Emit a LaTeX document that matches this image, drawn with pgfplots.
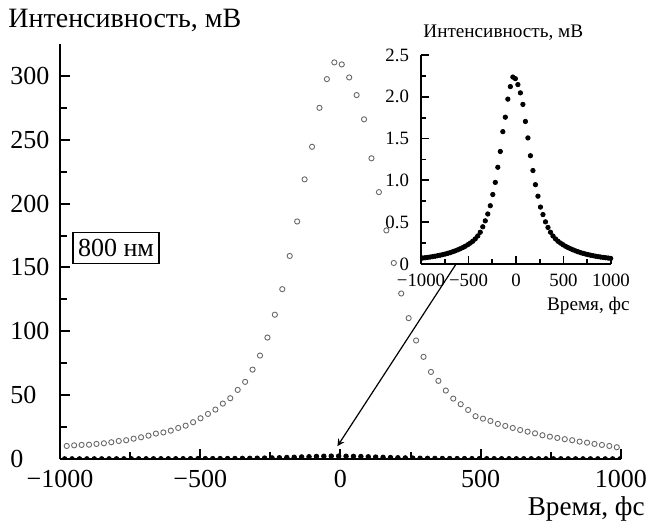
\documentclass[border=0pt]{standalone}
\usepackage{fontspec}
\setmainfont{Liberation Serif}
\usepackage{pgfplots}
\usepackage{pgfplotstable}
\pgfplotsset{compat=1.18}

\definecolor{circgray}{RGB}{105,105,105}

% 800 nm, open circles (main plot)
\pgfplotstableread{
t v
-1002.5 10.0
-976 10.2
-949.5 10.7
-923 11.0
-896.5 11.2
-870 11.8
-843.5 12.3
-817 13.1
-790.5 14.1
-764 14.7
-737.5 15.9
-711 17.0
-684.5 18.3
-658 19.9
-631.5 20.8
-605 22.2
-578.5 24.3
-552 26.1
-525.5 28.8
-499 31.9
-472.5 35.3
-446 38.7
-419.5 43.4
-393 47.6
-366.5 54.1
-340 60.4
-313.5 70.0
-287 81.0
-260.5 95.1
-234 113.0
-207.5 133.0
-181 159.0
-154.5 186.0
-128 219.0
-101.5 244.5
-75 275.0
-48.5 297.5
-22 310.6
4.5 309.0
31 298.8
57.5 285.0
84 266.0
110.5 235.5
137 209.0
163.5 179.0
190 153.5
216.5 129.6
243 110.3
269.5 92.8
296 80.0
322.5 68.2
349 61.2
375.5 53.6
402 47.3
428.5 42.9
455 38.4
481.5 33.5
508 31.6
534.5 29.8
561 27.5
587.5 25.9
614 24.3
640.5 22.7
667 21.4
693.5 20.1
720 18.6
746.5 17.5
773 16.5
799.5 15.5
826 14.7
852.5 13.6
879 12.8
905.5 11.8
932 11.0
958.5 10.2
985 9.2
}\wide

% filled dots (inset, also along the bottom of the main plot)
\pgfplotstableread{
t v
-983.4 0.071
-957.0 0.075
-930.6 0.079
-904.2 0.083
-877.8 0.088
-851.4 0.093
-825.0 0.099
-798.6 0.105
-772.2 0.112
-745.8 0.119
-719.4 0.127
-693.0 0.136
-666.6 0.146
-640.2 0.157
-613.8 0.169
-587.4 0.182
-561.0 0.196
-534.6 0.212
-508.2 0.230
-481.8 0.250
-455.4 0.272
-429.0 0.300
-402.6 0.335
-376.2 0.380
-349.8 0.445
-323.4 0.516
-297.0 0.598
-270.6 0.697
-244.2 0.831
-217.8 0.976
-191.4 1.157
-165.0 1.346
-138.6 1.583
-112.2 1.756
-85.8 1.972
-59.4 2.122
-33.0 2.236
-6.6 2.217
19.8 2.146
46.2 2.047
72.6 1.909
99.0 1.705
125.4 1.508
151.8 1.295
178.2 1.118
204.6 0.949
231.0 0.811
257.4 0.681
283.8 0.591
310.2 0.504
336.6 0.437
363.0 0.380
389.4 0.335
415.8 0.300
442.2 0.272
468.6 0.250
495.0 0.230
521.4 0.212
547.8 0.196
574.2 0.182
600.6 0.169
627.0 0.157
653.4 0.146
679.8 0.136
706.2 0.127
732.6 0.119
759.0 0.112
785.4 0.105
811.8 0.099
838.2 0.093
864.6 0.088
891.0 0.083
917.4 0.079
943.8 0.075
970.2 0.071
996.6 0.067
}\narrow

\newcommand\mainfont{\fontsize{13}{15}\selectfont}
\newcommand\insetfont{\fontsize{9.4}{11}\selectfont}

\begin{document}
\begin{tikzpicture}
\useasboundingbox (-30pt,-35pt) rectangle (295pt,229.5pt);

\begin{axis}[
  at={(0pt,0pt)}, anchor=south west,
  scale only axis, width=280.5pt, height=207.5pt,
  xmin=-1000, xmax=1000, ymin=0, ymax=325,
  axis lines*=left, axis line style={-, line width=1.3pt},
  tick align=inside, tick style={line width=1pt, black},
  major tick length=5pt, minor tick length=3.5pt,
  xtick={-1000,-500,0,500,1000},
  xticklabels={−1000,−500,0,500,1000},
  minor x tick num=1,
  ytick={0,50,...,300},
  minor y tick num=1,
  /pgf/number format/assume math mode=true,
  tick label style={font=\mainfont},
  xticklabel style={yshift=-2pt},
  yticklabel style={anchor=west, inner sep=0pt, xshift=-25pt},
  clip marker paths=true,
]
\addplot[only marks, mark=o, mark size=1.3pt, color=circgray, mark options={line width=0.45pt}]
  table[x=t, y=v] {\wide};
\addplot[only marks, mark=*, mark size=1.15pt, color=black]
  table[x=t, y=v] {\narrow};
\draw[-stealth, line width=0.6pt] (axis cs:410,152) -- (axis cs:-11,10);
\end{axis}

\begin{axis}[
  at={(180.5pt,97.5pt)}, anchor=south west,
  scale only axis, width=95pt, height=104.5pt,
  xmin=-1000, xmax=1000, ymin=0, ymax=2.5,
  axis lines*=left, axis line style={-, line width=1.2pt},
  tick align=inside, tick style={line width=0.9pt, black},
  major tick length=4pt, minor tick length=2.5pt,
  xtick={-1000,-500,0,500,1000},
  xticklabels={−1000,−500,0,500,1000},
  minor x tick num=1,
  ytick={0,0.5,1,1.5,2,2.5},
  yticklabels={0,0.5,1.0,1.5,2.0,2.5},
  minor y tick num=1,
  /pgf/number format/assume math mode=true,
  tick label style={font=\insetfont},
  xticklabel style={yshift=-1.5pt},
  yticklabel style={xshift=-2.5pt},
]
\addplot[only marks, mark=*, mark size=1.1pt, color=black]
  table[x=t, y=v] {\narrow};
\end{axis}

\node[anchor=base west, inner sep=0pt, font=\fontsize{14}{16}\selectfont] at (-26pt,215.5pt) {Интенсивность, мВ};
\node[anchor=base east, inner sep=0pt, font=\fontsize{13.6}{16}\selectfont] at (292.5pt,-28.5pt) {Время, фс};
\node[draw, line width=0.9pt, inner xsep=2.5pt, minimum height=15pt, font=\mainfont] at (28pt,105.5pt) {800 нм};
\node[anchor=base west, inner sep=0pt, font=\fontsize{9.6}{11}\selectfont] at (181.5pt,210.5pt) {Интенсивность, мВ};
\node[anchor=base east, inner sep=0pt, font=\fontsize{9.6}{11}\selectfont] at (285pt,74pt) {Время, фс};
\end{tikzpicture}
\end{document}
